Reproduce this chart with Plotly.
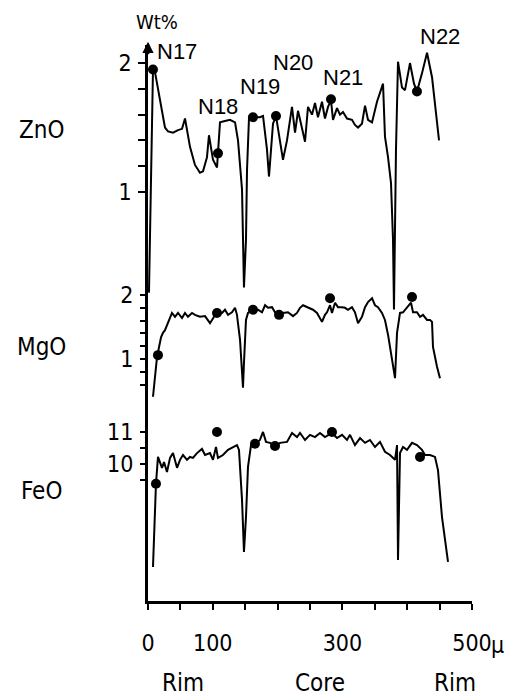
import plotly.graph_objects as go

# ---------------- data (distance in micron, concentration in wt%) ----------------
dist_zno = [1.5, 7.7, 10.8, 18.5, 26.2, 30.9, 38.6, 46.3, 52.5, 57.1, 64.8, 72.5, 80.2, 84.9,
            91.0, 94.1, 100.3, 106.5, 108.0, 111.1, 118.8, 126.5, 134.3, 138.9, 145.1, 146.6,
            148.1, 151.2, 152.8, 155.9, 162.0, 172.8, 177.5, 183.6, 186.7, 192.9, 197.5, 200.6,
            208.3, 214.5, 222.2, 226.9, 231.5, 236.1, 242.3, 246.9, 253.1, 257.7, 262.3, 268.5,
            273.1, 277.8, 282.4, 285.5, 291.7, 296.3, 300.9, 307.1, 314.8, 319.4, 324.1, 330.2,
            334.9, 339.5, 345.7, 353.4, 362.7, 365.7, 370.4, 375.0, 378.1, 379.6, 381.2, 382.7,
            385.8, 388.9, 392.0, 396.6, 404.3, 410.5, 415.1, 422.8, 430.6, 438.3, 442.9, 449.1]
zno = [0.22, 1.95, 1.93, 1.71, 1.50, 1.47, 1.46, 1.48, 1.49, 1.57, 1.35, 1.21, 1.15, 1.16,
       1.27, 1.44, 1.25, 1.19, 1.30, 1.54, 1.55, 1.56, 1.54, 1.40, 1.02, 0.50,
       0.26, 0.63, 1.17, 1.58, 1.58, 1.58, 1.59, 1.33, 1.12, 1.53, 1.59, 1.50,
       1.25, 1.40, 1.66, 1.46, 1.63, 1.53, 1.39, 1.66, 1.60, 1.69, 1.58, 1.70,
       1.57, 1.66, 1.71, 1.56, 1.65, 1.60, 1.62, 1.57, 1.56, 1.52, 1.50, 1.53,
       1.67, 1.56, 1.54, 1.70, 1.84, 1.43, 1.27, 1.07, 0.63, 0.09, 0.71, 1.33,
       2.01, 1.92, 1.81, 1.79, 2.00, 1.84, 1.78, 1.92, 2.08, 1.89, 1.69, 1.40]

dist_mgo = [7.7, 10.8, 13.9, 20.1, 23.1, 26.2, 30.9, 37.0, 41.7, 46.3, 52.5, 57.1, 61.7, 67.9,
            72.5, 80.2, 88.0, 95.7, 101.9, 106.5, 114.2, 118.8, 123.5, 129.6, 134.3, 137.3,
            142.0, 145.1, 146.6, 148.1, 151.2, 154.3, 162.0, 169.8, 175.9, 180.6, 185.2, 191.4,
            196.0, 200.6, 208.3, 216.0, 223.8, 229.9, 234.6, 239.2, 246.9, 254.6, 260.8, 268.5,
            273.1, 276.2, 280.9, 283.9, 288.6, 293.2, 299.4, 304.0, 308.6, 314.8, 319.4, 324.1,
            330.2, 334.9, 339.5, 345.7, 350.3, 354.9, 361.1, 365.7, 370.4, 376.5, 381.2, 384.3,
            388.9, 393.5, 399.7, 405.9, 409.0, 415.1, 419.8, 424.4, 430.6, 435.2, 438.3, 439.8,
            446.0, 450.6]
mgo = [0.41, 0.72, 1.03, 1.34, 1.41, 1.45, 1.56, 1.72, 1.66, 1.72, 1.64, 1.72, 1.66, 1.72,
       1.69, 1.66, 1.67, 1.56, 1.66, 1.72, 1.72, 1.77, 1.69, 1.73, 1.80, 1.69,
       1.30, 0.88, 0.55, 0.94, 1.61, 1.72, 1.77, 1.77, 1.73, 1.84, 1.80, 1.81,
       1.73, 1.69, 1.72, 1.73, 1.67, 1.72, 1.80, 1.84, 1.80, 1.77, 1.72, 1.58,
       1.69, 1.73, 1.84, 1.72, 1.88, 1.81, 1.81, 1.80, 1.77, 1.81, 1.73, 1.56,
       1.66, 1.81, 1.89, 1.95, 1.84, 1.81, 1.72, 1.61, 1.38, 1.03, 0.70, 1.41,
       1.72, 1.73, 1.80, 1.88, 1.73, 1.73, 1.66, 1.69, 1.61, 1.61, 1.58, 1.19,
       0.88, 0.70]

dist_feo = [7.7, 10.8, 12.3, 15.4, 21.6, 24.7, 29.3, 34.0, 38.6, 44.8, 49.4, 54.0, 60.2, 64.8,
            69.4, 75.6, 83.3, 88.0, 95.7, 100.3, 104.9, 108.0, 115.7, 123.5, 131.2, 137.3,
            140.4, 145.1, 148.1, 151.2, 154.3, 159.0, 165.1, 172.8, 177.5, 182.1, 188.3, 196.0,
            203.7, 214.5, 222.2, 229.9, 234.6, 242.3, 250.0, 257.7, 265.4, 273.1, 283.9, 291.7,
            299.4, 307.1, 311.7, 319.4, 327.2, 334.9, 342.6, 350.3, 358.0, 365.7, 373.5, 381.2,
            384.3, 385.8, 388.9, 393.5, 399.7, 407.4, 415.1, 422.8, 427.5, 435.2, 442.9, 447.5,
            453.7, 458.3, 463.0]
feo = [6.78, 8.88, 9.38, 10.22, 9.88, 10.06, 9.75, 10.19, 10.34, 9.88, 10.13, 10.28, 10.13, 10.22,
       10.19, 10.34, 10.47, 10.28, 10.34, 10.13, 10.53, 10.19, 10.28, 10.44, 10.53, 10.59,
       10.44, 8.88, 7.25, 8.34, 9.91, 10.59, 10.63, 10.75, 11.00, 10.69, 10.66, 10.56,
       10.66, 10.69, 10.97, 10.84, 10.97, 10.75, 10.91, 10.84, 10.97, 10.84, 10.97, 10.81,
       10.91, 10.75, 10.91, 10.59, 10.81, 10.66, 10.75, 10.53, 10.69, 10.38, 10.28, 10.13,
       10.59, 7.00, 10.34, 10.53, 10.44, 10.66, 10.59, 10.44, 10.28, 10.28, 10.22, 9.81,
       8.34, 7.63, 6.94]

# spot analyses N17..N22
spot_labels = ["N17", "N18", "N19", "N20", "N21", "N22"]
spot_dist_zno = [7.7, 108.0, 162.0, 197.5, 282.4, 415.1]
spot_zno = [1.95, 1.30, 1.58, 1.59, 1.72, 1.78]
spot_dist_mgo = [15.4, 106.5, 162.0, 202.2, 280.9, 407.4]
spot_mgo = [1.06, 1.72, 1.77, 1.69, 1.95, 1.97]
spot_dist_feo = [12.3, 106.5, 165.1, 196.0, 283.9, 419.8]
spot_feo = [9.38, 11.00, 10.63, 10.56, 11.00, 10.22]

x_tick_vals = [0, 50, 100, 150, 200, 250, 300, 350, 400, 450, 500]
x_tick_text = ["0", "", "100", "", "", "", "300", "", "", "", "500"]
zno_tick_vals = [1.0, 1.2, 1.4, 1.6, 1.8, 2.0]
zno_tick_text = ["1", "", "", "", "", "2"]
mgo_tick_vals = [0.6, 0.8, 1.0, 1.2, 1.4, 1.6, 1.8, 2.0]
mgo_tick_text = ["", "", "1", "", "", "", "", "2"]
feo_tick_vals = [9.5, 10.0, 10.5, 11.0]
feo_tick_text = ["", "10", "", "11"]
series_names = ["ZnO", "MgO", "FeO"]
zone_labels = ["Rim", "Core", "Rim"]
zone_pos = [54, 265, 474]

# ---------------- figure ----------------
FONT = "DejaVu Sans Condensed, DejaVu Sans, sans-serif"
REG = "Liberation Sans, Arial, sans-serif"
INK = "black"

fig = go.Figure()
line = dict(color=INK, width=2)
mk = dict(color=INK, size=10)
fig.add_trace(go.Scatter(x=dist_zno, y=zno, mode="lines", line=line, yaxis="y", name="ZnO"))
fig.add_trace(go.Scatter(x=dist_mgo, y=mgo, mode="lines", line=line, yaxis="y2", name="MgO"))
fig.add_trace(go.Scatter(x=dist_feo, y=feo, mode="lines", line=line, yaxis="y3", name="FeO"))
fig.add_trace(go.Scatter(x=spot_dist_zno, y=spot_zno, mode="markers", marker=mk, yaxis="y"))
fig.add_trace(go.Scatter(x=spot_dist_mgo, y=spot_mgo, mode="markers", marker=mk, yaxis="y2"))
fig.add_trace(go.Scatter(x=spot_dist_feo, y=spot_feo, mode="markers", marker=mk, yaxis="y3"))

common_y = dict(showgrid=False, zeroline=False, ticks="outside", ticklen=7, tickwidth=1.5,
                tickcolor=INK, tickfont=dict(family=FONT, size=23, color=INK),
                ticklabelstandoff=2)

# page body has an 8px margin: the figure is sized/offset to compensate
fig.update_layout(
    width=520, height=691,
    margin=dict(l=140, r=56, t=37, b=98),
    paper_bgcolor="white", plot_bgcolor="white",
    showlegend=False,
    xaxis=dict(range=[0, 500], showgrid=False, zeroline=False, showline=True,
               linecolor=INK, linewidth=2.5, ticks="outside", ticklen=6, tickwidth=2,
               tickcolor=INK, tickvals=x_tick_vals, ticktext=x_tick_text,
               tickfont=dict(family=FONT, size=23, color=INK), ticklabelstandoff=14),
    yaxis=dict(range=[-2.171, 2.140], showline=True, linecolor=INK, linewidth=2.5,
               tickvals=zno_tick_vals, ticktext=zno_tick_text, **common_y),
    yaxis2=dict(range=[-2.781, 5.906], overlaying="y", side="left", showline=False,
                tickvals=mgo_tick_vals, ticktext=mgo_tick_text, **common_y),
    yaxis3=dict(range=[5.719, 23.09], overlaying="y", side="left", showline=False,
                tickvals=feo_tick_vals, ticktext=feo_tick_text, **common_y),
)

# arrow on top of the y axis
fig.add_annotation(x=0, y=1.006, xref="x", yref="paper", ax=0, ay=14, text="",
                   showarrow=True, arrowhead=2, arrowsize=0.9, arrowwidth=2.5,
                   arrowcolor=INK, standoff=0)
fig.add_annotation(x=14, y=1.041, xref="x", yref="paper", text="Wt%", showarrow=False,
                   xanchor="center", yanchor="middle",
                   font=dict(family=FONT, size=20, color=INK))

# spot labels (x in micron, y as fraction of plot height)
lab_xy = [(44.8, 0.989), (108.0, 0.890), (172.8, 0.926), (223.8, 0.969), (300.9, 0.941), (450.6, 1.016)]
for t, (lx, ly) in zip(spot_labels, lab_xy):
    fig.add_annotation(x=lx, y=ly, xref="x", yref="paper", text=t, showarrow=False,
                       xanchor="center", yanchor="middle",
                       font=dict(family=REG, size=22, color=INK))

# series names on the left
for name, py in zip(series_names, [0.847, 0.457, 0.198]):
    fig.add_annotation(x=-0.33, y=py, xref="paper", yref="paper", text=name, showarrow=False,
                       xanchor="center", yanchor="middle",
                       font=dict(family=FONT, size=24, color=INK))

# micron sign after 500
fig.add_annotation(x=500, y=-0.079, xref="x", yref="paper", text="µ", showarrow=False,
                   xanchor="left", yanchor="middle", xshift=17,
                   font=dict(family=FONT, size=23, color=INK))

# Rim / Core / Rim
for t, zx in zip(zone_labels, zone_pos):
    fig.add_annotation(x=zx, y=-0.147, xref="x", yref="paper", text=t, showarrow=False,
                       xanchor="center", yanchor="middle",
                       font=dict(family=FONT, size=24, color=INK))

fig.write_html("out.html")
